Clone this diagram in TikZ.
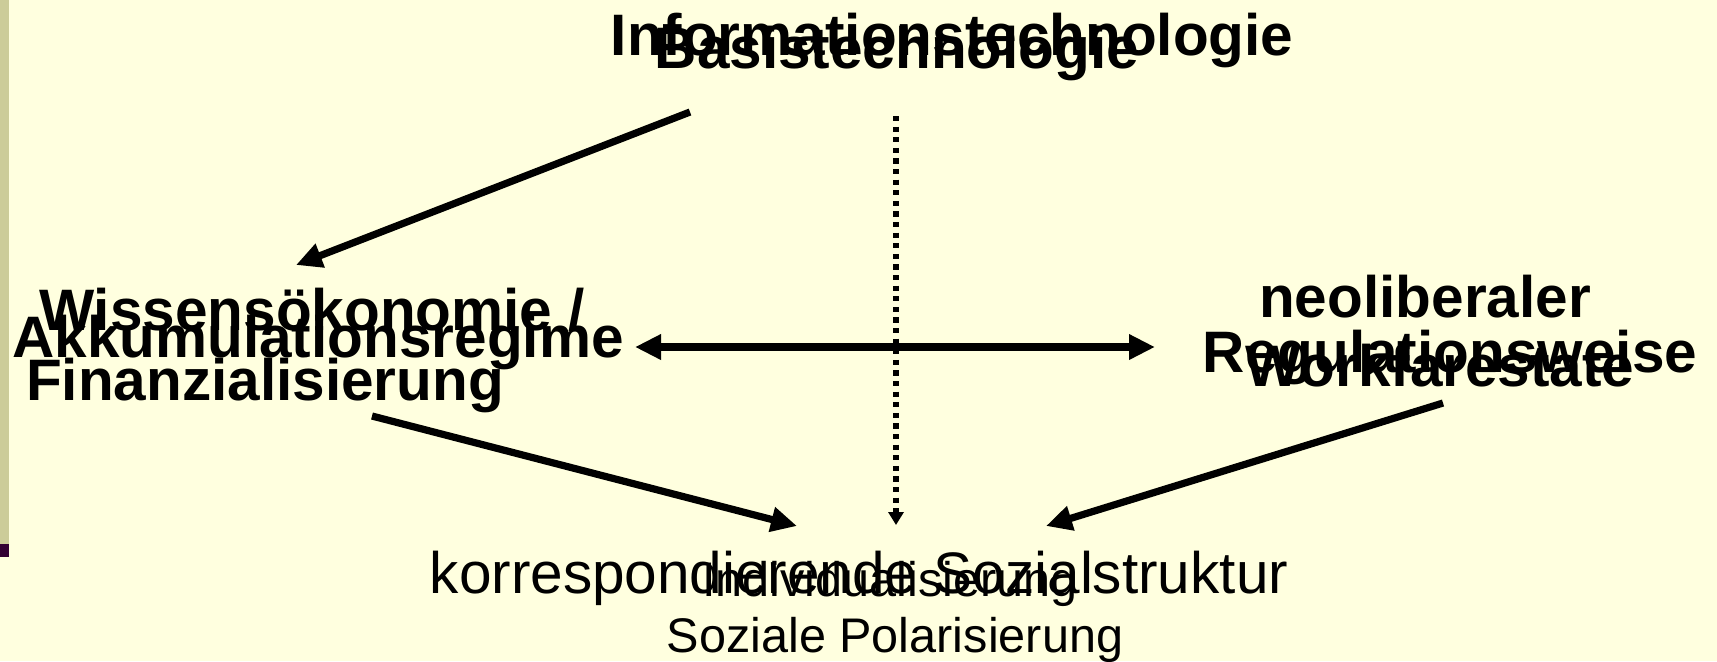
\documentclass[tikz,border=0pt]{standalone}
\usepackage{fontspec}
\setmainfont{Liberation Sans}
\usetikzlibrary{arrows.meta}

\definecolor{slidebg}{HTML}{FFFFDF}
\definecolor{slidebar}{HTML}{CCCC99}
\definecolor{slidemark}{HTML}{330033}

\tikzset{
  bigbold/.style={font=\bfseries\fontsize{29.25}{32}\selectfont, inner sep=0pt, anchor=base},
  bigplain/.style={font=\fontsize{29.25}{32}\selectfont, inner sep=0pt, anchor=base},
  smallplain/.style={font=\fontsize{24.3}{27}\selectfont, inner sep=0pt, anchor=base},
  fatarrow/.style={line width=3.6pt, -{Triangle[length=13pt,width=12pt]}},
  fatboth/.style={line width=3.6pt, {Triangle[length=13pt,width=12pt]}-{Triangle[length=13pt,width=12pt]}},
  dotarrow/.style={line width=2.7pt, dash pattern=on 2.6pt off 2.7pt, -{Triangle[length=6.5pt,width=7.5pt]}}
}

\begin{document}
\begin{tikzpicture}[x=0.5pt,y=-0.5pt]
    % slide background
    \fill[slidebg] (0,0) rectangle (1717,661);
    \useasboundingbox (0,0) rectangle (1717,661);
    \fill[slidebar] (0,0) rectangle (9,544);
    \fill[slidemark] (0,544) rectangle (9,557);

    % top
    \node[bigbold] (infotech) at (952,55) {Informationstechnologie};
    \node[bigbold] (basis) at (897,68) {Basistechnologie};

    % left
    \node[bigbold] (wissen) at (312,330) {Wissensökonomie /};
    \node[bigbold] (akku) at (318,357) {Akkumulationsregime};
    \node[bigbold] (finanz) at (265,400) {Finanzialisierung};

    % right
    \node[bigbold] (neolib) at (1425,317) {neoliberaler};
    \node[bigbold] (regul) at (1450,372) {Regulationsweise};
    \node[bigbold] (workfare) at (1440,386) {Workfarestate};

    % bottom
    \node[bigplain] (sozial) at (859,593) {korrespondierende Sozialstruktur};
    \node[smallplain] (indiv) at (890,596) {Individualisierung};
    \node[smallplain] (polar) at (895,652) {Soziale Polarisierung};

    % arrow ends
    \coordinate (topL) at (690,112);
    \coordinate (leftT) at (296,265);
    \coordinate (midL) at (635,347);
    \coordinate (midR) at (1155,347);
    \coordinate (leftB) at (372,416);
    \coordinate (botL) at (797,526);
    \coordinate (rightB) at (1443,403);
    \coordinate (botR) at (1046,526);
    \coordinate (topM) at (896,116);
    \coordinate (botM) at (896,525);

    % arrows
    \draw[fatarrow] (topL) -- (leftT);
    \draw[fatboth] (midL) -- (midR);
    \draw[fatarrow] (leftB) -- (botL);
    \draw[fatarrow] (rightB) -- (botR);
    \draw[dotarrow] (topM) -- (botM);
\end{tikzpicture}
\end{document}
